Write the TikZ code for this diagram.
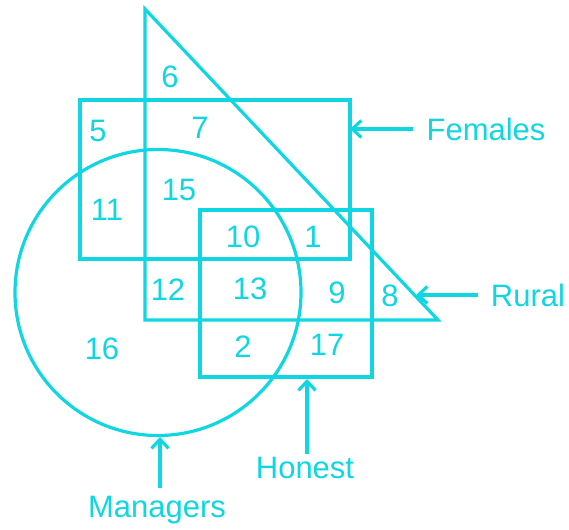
\documentclass[tikz,border=0pt]{standalone}
\usepackage{fontspec}
\setmainfont{Liberation Sans}
\usetikzlibrary{arrows.meta}
\definecolor{venncyan}{RGB}{16,214,226}

\begin{document}
\begin{tikzpicture}[x=1pt,y=-1pt,
    outline/.style={draw=venncyan, line width=3.2pt},
    num/.style={text=venncyan, font=\fontsize{31}{36}\selectfont, inner sep=0pt},
    lbl/.style={text=venncyan, font=\fontsize{31}{36}\selectfont, inner sep=2pt},
    ptr/.style={draw=venncyan, line width=3.2pt, -{Straight Barb[length=9pt,width=17pt]}}]
    \useasboundingbox (0,0) rectangle (569,529);

    \draw [outline] (145,9) -- (145,320) -- (438,320) -- cycle;
    \draw [outline] (80,100) rectangle (350,259);
    \draw [outline] (200,210) rectangle (372,377);
    \draw [outline] (158,292.5) circle (143);

    \node [num] (n6) at (170,77) {6};
    \node [num] (n5) at (98,131) {5};
    \node [num] (n7) at (200,128) {7};
    \node [num] (n11) at (107,210) {11};
    \node [num] (n15) at (179,190) {15};
    \node [num] (n10) at (243,237) {10};
    \node [num] (n1) at (313,237) {1};
    \node [num] (n12) at (168,290) {12};
    \node [num] (n13) at (250,289) {13};
    \node [num] (n9) at (337,293) {9};
    \node [num] (n8) at (390,296) {8};
    \node [num] (n16) at (102,349) {16};
    \node [num] (n2) at (243,347) {2};
    \node [num] (n17) at (327,345) {17};

    \node [lbl, inner xsep=13pt] (females) at (486,129) {Females};
    \node [lbl, inner xsep=13pt] (rural) at (528,295) {Rural};
    \node [lbl, inner ysep=3pt] (honest) at (305,468) {Honest};
    \node [lbl, inner ysep=8pt] (managers) at (157,510) {Managers};

    \coordinate (femhead) at (350,129);
    \coordinate (rurhead) at (416,295);
    \coordinate (honhead) at (307,379);
    \coordinate (manhead) at (160,437);

    \draw [ptr] (females.west) -- (femhead);
    \draw [ptr] (rural.west) -- (rurhead);
    \draw [ptr] (honest.north -| honhead) -- (honhead);
    \draw [ptr] (managers.north -| manhead) -- (manhead);
\end{tikzpicture}
\end{document}
